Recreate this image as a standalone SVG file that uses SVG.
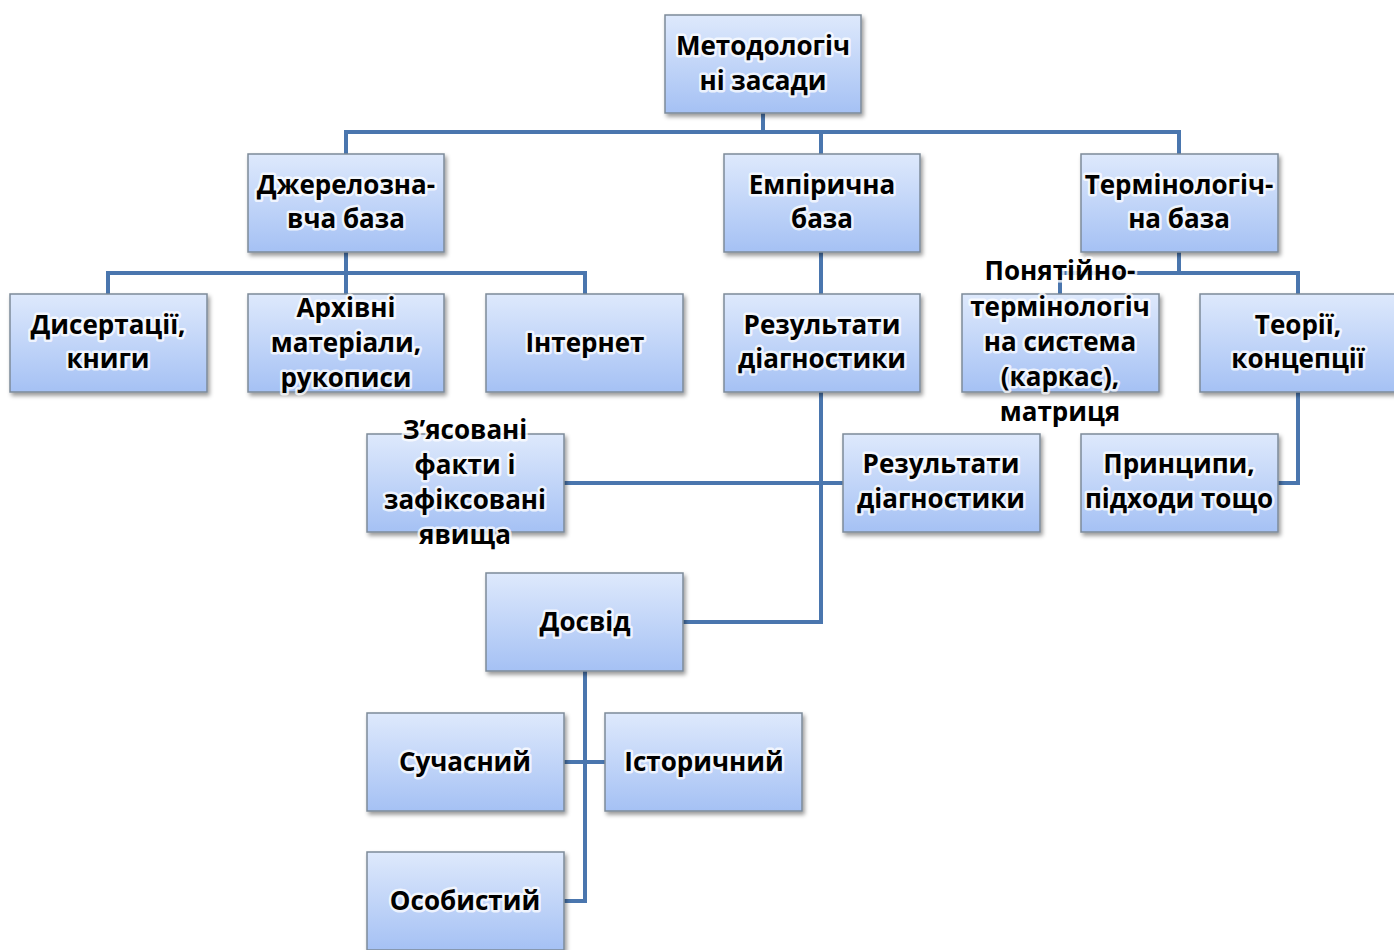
<svg xmlns="http://www.w3.org/2000/svg" width="1394" height="950" viewBox="0 0 1394 950">
<defs>
<linearGradient id="g" x1="0" y1="0" x2="0" y2="1">
<stop offset="0" stop-color="#dee9fc"/>
<stop offset="1" stop-color="#a5c1f4"/>
</linearGradient>
<filter id="sh" x="-10%" y="-10%" width="125%" height="130%">
<feDropShadow dx="2" dy="3" stdDeviation="2" flood-color="#000" flood-opacity="0.4"/>
</filter>
</defs>
<style>
.box{fill:url(#g);stroke:#7d8a99;stroke-width:1.5;filter:url(#sh)}
.t{font-family:"Open Sans","Noto Sans","DejaVu Sans",sans-serif;font-weight:bold;font-size:26px;fill:#000;text-anchor:middle;stroke:#fff;stroke-width:5;stroke-opacity:0.75;stroke-linejoin:round;paint-order:stroke}
.c{fill:none;stroke:#4a76ae;stroke-width:4;stroke-linejoin:miter}
</style>
<rect width="1394" height="950" fill="#fff"/>
<g id="connectors">
<path class="c" d="M763 113V132M346 154V132H1179V154M821 132V154"/>
<path class="c" d="M346 252V273M108 294V273H585V294M346 273V294"/>
<path class="c" d="M821 252V294"/>
<path class="c" d="M1179 252V273M1060 294V273H1298V294"/>
<path class="c" d="M821 392V622H683"/>
<path class="c" d="M564 483H843"/>
<path class="c" d="M1298 392V483H1278"/>
<path class="c" d="M585 671V901H564M564 762H605"/>
</g>
<g id="n-metod"><rect class="box" x="665" y="15" width="196" height="98"/><text class="t" x="763" y="55">Методологіч</text><text class="t" x="763" y="90">ні засади</text></g>
<g id="n-dzherel"><rect class="box" x="248" y="154" width="196" height="98"/><text class="t" x="346" y="194">Джерелозна-</text><text class="t" x="346" y="228">вча база</text></g>
<g id="n-empir"><rect class="box" x="724" y="154" width="196" height="98"/><text class="t" x="822" y="194">Емпірична</text><text class="t" x="822" y="228">база</text></g>
<g id="n-termin"><rect class="box" x="1081" y="154" width="197" height="98"/><text class="t" x="1179" y="194">Термінологіч-</text><text class="t" x="1179" y="228">на база</text></g>
<g id="n-dysert"><rect class="box" x="10" y="294" width="197" height="98"/><text class="t" x="108" y="334">Дисертації,</text><text class="t" x="108" y="368">книги</text></g>
<g id="n-arkhiv"><rect class="box" x="248" y="294" width="196" height="98"/><text class="t" x="346" y="317">Архівні</text><text class="t" x="346" y="352">матеріали,</text><text class="t" x="346" y="387">рукописи</text></g>
<g id="n-internet"><rect class="box" x="486" y="294" width="197" height="98"/><text class="t" x="585" y="352">Інтернет</text></g>
<g id="n-rezult1"><rect class="box" x="724" y="294" width="196" height="98"/><text class="t" x="822" y="334">Результати</text><text class="t" x="822" y="368">діагностики</text></g>
<g id="n-ponyat"><rect class="box" x="962" y="294" width="197" height="98"/><text class="t" x="1060" y="280">Понятійно-</text><text class="t" x="1060" y="316">термінологіч</text><text class="t" x="1060" y="351">на система</text><text class="t" x="1060" y="386">(каркас),</text><text class="t" x="1060" y="421">матриця</text></g>
<g id="n-teorii"><rect class="box" x="1200" y="294" width="197" height="98"/><text class="t" x="1298" y="334">Теорії,</text><text class="t" x="1298" y="368">концепції</text></g>
<g id="n-zyasov"><rect class="box" x="367" y="434" width="197" height="98"/><text class="t" x="465" y="439">З’ясовані</text><text class="t" x="465" y="474">факти і</text><text class="t" x="465" y="509">зафіксовані</text><text class="t" x="465" y="544">явища</text></g>
<g id="n-rezult2"><rect class="box" x="843" y="434" width="197" height="98"/><text class="t" x="941" y="473">Результати</text><text class="t" x="941" y="508">діагностики</text></g>
<g id="n-pryntsyp"><rect class="box" x="1081" y="434" width="197" height="98"/><text class="t" x="1179" y="473">Принципи,</text><text class="t" x="1179" y="508">підходи тощо</text></g>
<g id="n-dosvid"><rect class="box" x="486" y="573" width="197" height="98"/><text class="t" x="585" y="631">Досвід</text></g>
<g id="n-suchas"><rect class="box" x="367" y="713" width="197" height="98"/><text class="t" x="465" y="771">Сучасний</text></g>
<g id="n-istor"><rect class="box" x="605" y="713" width="197" height="98"/><text class="t" x="704" y="771">Історичний</text></g>
<g id="n-osob"><rect class="box" x="367" y="852" width="197" height="98"/><text class="t" x="465" y="910">Особистий</text></g>
</svg>
